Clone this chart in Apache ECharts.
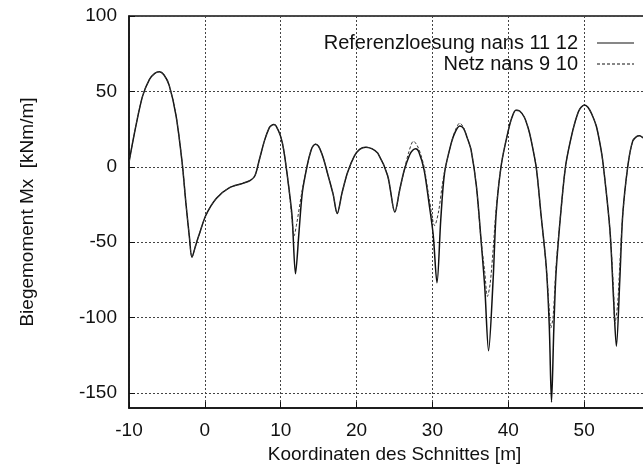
<!DOCTYPE html>
<html><head><meta charset="utf-8">
<script src="https://cdn.jsdelivr.net/npm/echarts@6/dist/echarts.min.js"></script>
<style>html,body{margin:0;padding:0;background:#fff}#c{width:643px;height:464px}</style>
</head><body><div id="c"></div>
<script>
const refName = 'Referenzloesung nans 11 12';
const netzName = 'Netz nans 9 10';
const refX = [-10,-9.1,-8.2,-7.3,-6.6,-6.0,-5.4,-4.7,-3.8,-3.0,-2.5,-2.05,-1.7,-1.2,-0.75,0.15,1.5,3.2,5.0,6.0,6.6,7.2,7.9,8.5,8.8,9.1,9.4,10.0,10.4,11.05,11.5,11.95,12.4,12.85,13.5,14.0,14.3,14.6,15.0,15.6,16.15,16.9,17.45,18.1,18.8,19.7,20.4,21.2,22.0,22.8,24.1,25.05,25.7,26.3,27.0,27.4,27.8,28.2,28.9,29.6,30.1,30.6,31.1,31.6,32.5,33.0,33.6,34.1,34.6,35.1,35.8,36.4,36.9,37.4,38.0,38.4,39.1,40.0,40.5,41.0,41.5,42.1,42.6,43.0,43.7,44.3,45.0,45.4,45.7,46.0,46.3,47.0,47.6,48.5,49.2,49.6,50.05,50.5,51.0,51.6,52.1,52.5,53.4,53.9,54.25,54.7,55.1,55.8,56.4,56.9,57.3,57.7,58.0,58.6];
const refY = [3,27,47,58,62,63,61,54,34,3,-24,-46,-60,-52,-45,-32,-21,-14,-11,-9,-6,5,18,26,27.5,28,27,20,11,-13,-33,-71,-44,-17,1,11,14,15,13.5,6,-4,-18,-31,-17,-4,7,11.5,13,12,9,-6,-30,-15,-2,8,11,12,10,-2,-26,-45,-77,-35,-4,16,23,27,25.5,19,11,-13,-48,-80,-122,-75,-31,2,24,33,37.5,37,33,26,18,-1,-31,-66,-105,-156,-108,-70,-26,2,24,36,39.5,41,39.5,35,27,15,2,-42,-90,-119,-75,-31,2,17,20,20.5,19.5,18,12];
const netzX = [-10,-9.1,-8.2,-7.3,-6.6,-6.0,-5.4,-4.7,-3.8,-3.0,-2.5,-2.05,-1.7,-1.2,-0.75,0.15,1.5,3.2,5.0,6.0,6.6,7.2,7.9,8.5,8.8,9.1,9.4,10.0,10.4,11.05,11.5,11.75,12.1,12.85,13.5,14.0,14.3,14.6,15.0,15.6,16.15,16.9,17.45,18.1,18.8,19.7,20.4,21.2,22.0,22.8,24.1,25.05,25.7,26.3,26.9,27.5,28.0,28.4,28.9,29.6,30.3,30.8,31.3,31.6,32.5,33.0,33.6,34.1,34.6,35.1,35.8,36.4,36.9,37.25,37.6,38.0,38.4,39.1,40.0,40.5,41.0,41.5,42.1,42.6,43.0,43.7,44.3,45.0,45.4,45.6,45.9,46.3,47.0,47.6,48.5,49.2,49.6,50.05,50.5,51.0,51.6,52.1,52.5,53.4,53.9,54.05,54.4,54.7,55.1,55.8,56.4,56.9,57.3,57.7,58.0,58.6];
const netzY = [3,27,47,58,62,63,61,54,34,3,-24,-46,-60,-52,-45,-32,-21,-14,-11,-9,-6,5,18,26,27.5,28,27,20,11,-13,-35,-46,-38,-15,1,11,14,15,13.5,6,-4,-18,-31,-17,-4,7,11.5,13,12,9,-6,-30,-15,-2,10,17,14,9,0,-22,-39,-30,-12,-3,16,24,29,26,19,11,-13,-48,-70,-86,-78,-55,-28,2,24,33,37.5,37,33,26,18,-1,-31,-66,-95,-107,-100,-66,-26,2,24,36,39.5,41,39.5,35,27,15,2,-42,-85,-104,-92,-65,-31,2,17,20,20.5,19.5,18,12];
const xTicks = {min: -10, max: 60, interval: 10};
const yRange = {min: -160, max: 100};

const pairs = (xs, ys) => xs.map((x, i) => [x, ys[i]]);
const font = 'Liberation Sans, Arial, sans-serif';
const solidIcon = 'path://M0,0h37v1h-37z';
const dashIcon = 'path://M0,0h3v1h-3zM5,0h3v1h-3zM10,0h3v1h-3zM15,0h3v1h-3zM20,0h3v1h-3zM25,0h3v1h-3zM30,0h3v1h-3zM35,0h2v1h-2z';
const chart = echarts.init(document.getElementById('c'), null, {renderer: 'canvas'});
const legendBase = {orient: 'vertical', align: 'right', right: 9, padding: 0, itemWidth: 37, itemHeight: 1.4,
  itemStyle: {color: '#111', borderWidth: 0},
  textStyle: {fontFamily: font, fontSize: 20, color: '#111', padding: [0, 14, 0, 0]}};
chart.setOption({
  animation: false,
  backgroundColor: '#fff',
  grid: {left: 129, top: 16, width: 531, height: 392, outerBoundsMode: 'none', containLabel: false,
    show: true, borderColor: '#111', borderWidth: 1.5, backgroundColor: 'transparent'},
  legend: [
    Object.assign({}, legendBase, {data: [{name: refName, icon: solidIcon}], top: 33}),
    Object.assign({}, legendBase, {data: [{name: netzName, icon: dashIcon}], top: 54})
  ],
  xAxis: {
    type: 'value', min: xTicks.min, max: xTicks.max, interval: xTicks.interval,
    name: 'Koordinaten des Schnittes [m]', nameLocation: 'middle', nameGap: 29,
    nameTextStyle: {fontFamily: font, fontSize: 19, color: '#111'},
    axisLine: {show: true, onZero: false, lineStyle: {color: '#111', width: 1.5}},
    axisTick: {show: true, inside: true, length: 6, lineStyle: {color: '#111'}},
    axisLabel: {fontFamily: font, fontSize: 19, color: '#111', margin: 13},
    splitLine: {show: true, lineStyle: {type: [2, 2], color: '#444', width: 1}}
  },
  yAxis: {
    type: 'value', min: yRange.min, max: yRange.max, splitNumber: 5,
    name: 'Biegemoment Mx  [kNm/m]', nameLocation: 'middle', nameGap: 92, nameRotate: 90,
    nameTextStyle: {fontFamily: font, fontSize: 19, color: '#111'},
    axisLine: {show: true, onZero: false, lineStyle: {color: '#111', width: 1.5}},
    axisTick: {show: true, inside: true, length: 6, lineStyle: {color: '#111'}},
    axisLabel: {fontFamily: font, fontSize: 19, color: '#111', margin: 12, showMinLabel: false},
    splitLine: {show: true, lineStyle: {type: [2, 2], color: '#444', width: 1}}
  },
  series: [
    {name: refName, type: 'line', data: pairs(refX, refY), symbol: 'none', smooth: 0.3,
     lineStyle: {color: '#111', width: 1.5}, itemStyle: {color: '#111'}, z: 3},
    {name: netzName, type: 'line', data: pairs(netzX, netzY), symbol: 'none', smooth: 0.3,
     lineStyle: {color: '#333', width: 1, type: [3, 2]}, itemStyle: {color: '#333'}, z: 4}
  ]
});
</script></body></html>
